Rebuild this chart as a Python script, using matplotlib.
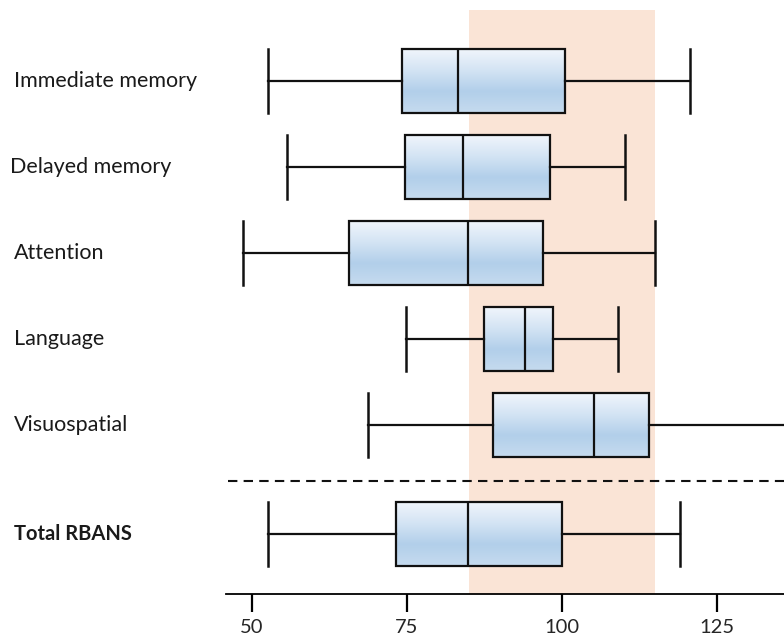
import numpy as np
import matplotlib
matplotlib.use("Agg")
import matplotlib.pyplot as plt
from matplotlib.colors import LinearSegmentedColormap
import matplotlib.transforms as mtransforms

plt.rcParams["font.family"] = ["Lato", "DejaVu Sans"]

# RBANS index scores (box plot statistics)
domains = ["Immediate memory", "Delayed memory", "Attention", "Language", "Visuospatial", "Total RBANS"]
whislo = [52.5, 55.6, 48.6, 74.9, 68.7, 52.5]
q1 = [74.2, 74.7, 65.7, 87.4, 88.9, 73.3]
med = [83.2, 84.0, 84.8, 94.0, 105.1, 84.8]
q3 = [100.4, 98.0, 96.9, 98.5, 114.0, 100.0]
whishi = [120.6, 110.1, 115.0, 109.0, 140.0, 119.1]
rows = [0, 1, 2, 3, 4, 5.27]

normal_lo, normal_hi = 85, 115
xticks = [50, 75, 100, 125]

fig = plt.figure(figsize=(7.84, 6.35), dpi=100)
ax = fig.add_axes([226 / 784, 1 - 594 / 635, 1 - 226 / 784, 584 / 635])

ax.axvspan(normal_lo, normal_hi, color="#fae4d6", lw=0, zorder=0)

stats = []
for i in range(len(domains)):
    stats.append({"label": domains[i], "whislo": whislo[i], "q1": q1[i], "med": med[i],
                  "q3": q3[i], "whishi": whishi[i], "fliers": []})

box_h = 0.745
bp = ax.bxp(stats, positions=rows, vert=False, widths=box_h, capwidths=box_h,
            patch_artist=True, showfliers=False,
            boxprops=dict(facecolor="none", edgecolor="#111111", linewidth=1.6),
            medianprops=dict(color="#111111", linewidth=1.6),
            whiskerprops=dict(color="#111111", linewidth=1.6),
            capprops=dict(color="#111111", linewidth=1.8), zorder=3)

# gradient fill inside each box
cmap = LinearSegmentedColormap.from_list("boxgrad", ["#f2f6fc", "#d4e4f4", "#b2cfea", "#c6dbef"])
grad = np.linspace(0, 1, 256).reshape(-1, 1)
for i, box in enumerate(bp["boxes"]):
    im = ax.imshow(grad, cmap=cmap, aspect="auto", origin="upper", interpolation="bilinear",
                   extent=(q1[i], q3[i], rows[i] + box_h / 2, rows[i] - box_h / 2), zorder=2)
    im.set_clip_path(box)

# separator between domain scores and total
ax.hlines(4.65, 46.2, 136, colors="#111111", linestyles=(0, (4.5, 3)), linewidth=1.5, zorder=3)

ax.set_xlim(45.8, 135.8)
ax.set_ylim(5.965, -0.826)

for s in ["top", "right", "left"]:
    ax.spines[s].set_visible(False)
ax.spines["bottom"].set_linewidth(1.3)
ax.set_yticks([])
ax.set_xticks(xticks)
ax.tick_params(axis="x", direction="out", length=13, width=1.6, pad=5,
               labelsize=14.5, labelcolor="#262626")

# row labels at the left edge of the figure
trans = mtransforms.blended_transform_factory(fig.transFigure, ax.transData)
label_x = [14, 10, 14, 14, 14, 14]
for i, name in enumerate(domains):
    bold = name == "Total RBANS"
    ax.text(label_x[i] / 784, rows[i], name, transform=trans, ha="left", va="center",
            fontsize=14.5 if bold else 15.5, color="#1a1a1a",
            fontweight="bold" if bold else "normal", clip_on=False)

fig.savefig("out.png", dpi=100)
